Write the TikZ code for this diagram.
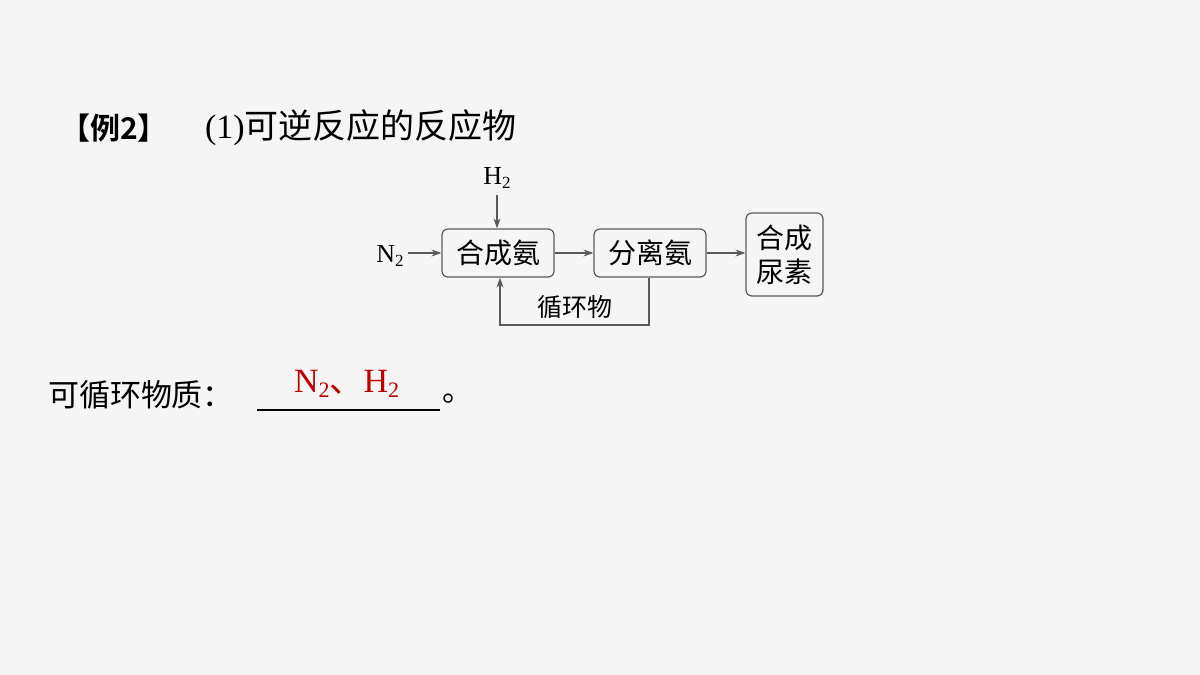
\documentclass[tikz,border=0pt]{standalone}
\usepackage{fontspec}
\setmainfont{Liberation Serif}
\newfontfamily\cjk[BoldFont={Noto Sans CJK SC Bold}]{Noto Sans CJK SC}
\usetikzlibrary{arrows.meta}
\definecolor{bg}{HTML}{F5F5F5}
\definecolor{ln}{HTML}{5A5A5A}
\definecolor{ans}{HTML}{C00000}
\newcommand{\fs}[1]{\fontsize{#1}{#1}\selectfont}
\newcommand{\subtwo}[1]{\raisebox{-0.35ex}{\fontsize{#1}{#1}\selectfont 2}}
\begin{document}
\begin{tikzpicture}[x=1pt,y=-1pt,
  txt/.style={inner sep=0pt,outer sep=0pt},
  procbox/.style={draw=ln,line width=1.2pt,rounded corners=6pt,inner sep=0pt,
    font=\cjk\fs{28}},
  flow/.style={draw=ln,line width=1.2pt,-{Stealth[length=10pt,width=7pt]}}]
\useasboundingbox[fill=bg] (0,0) rectangle (1200,675);
% title
\node[txt,anchor=west] (title) at (60,128) {\cjk\bfseries\fs{30}【例2】};
\node[txt,anchor=west] (q1) at (205,128) {\fs{34}(1)\cjk 可逆反应的反应物};
% diagram
\node[procbox,minimum width=112pt,minimum height=48pt] (b1) at (498,253) {合成氨};
\node[procbox,minimum width=112pt,minimum height=48pt] (b2) at (650,253) {分离氨};
\node[procbox,minimum width=77pt,minimum height=83pt,align=center] (b3) at (784.5,254.5) {合成\\[6pt]尿素};
\node[txt] (h2) at (497,178) {\fs{26}H\subtwo{17}};
\node[txt] (n2) at (390,256) {\fs{26}N\subtwo{17}};
\node[txt] (loop) at (575,307) {\cjk\fs{25}循环物};
\coordinate (h2e) at (497,195);
\coordinate (n2e) at (408,253);
\coordinate (c1) at (649,325);
\coordinate (c2) at (500,325);
\draw[flow] (h2e) -- (h2e |- b1.north);
\draw[flow] (n2e) -- (b1.west |- n2e);
\draw[flow] (b1.east) -- (b2.west);
\draw[flow] (b2.east) -- (b3.west |- b2.east);
\draw[flow] (c1 |- b2.south) -- (c1) -- (c2) -- (c2 |- b1.south);
% answer line
\node[txt,anchor=west] (q2) at (48,395) {\cjk\fs{31}可循环物质：};
\coordinate (u1) at (257,410);
\coordinate (u2) at (440,410);
\draw[line width=1.3pt,black] (u1) -- (u2);
\node[txt] (dot) at (458,399) {\cjk\fs{31}。};
\node[txt,anchor=base west,text=ans] (ans) at (294,392) {\fs{34}N\subtwo{22}\cjk 、\rmfamily H\subtwo{22}};
\end{tikzpicture}
\end{document}
